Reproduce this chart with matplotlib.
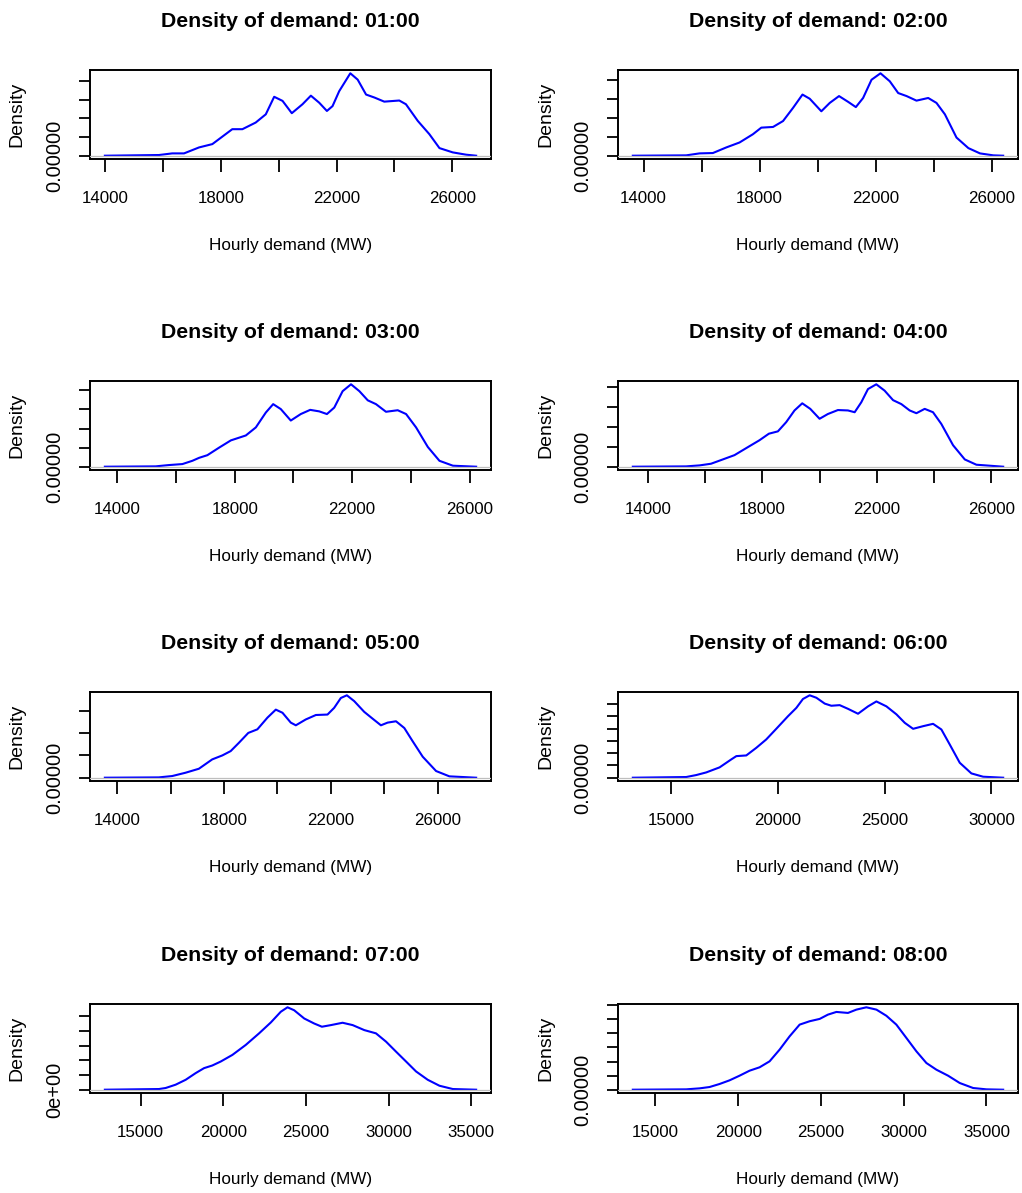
import numpy as np
import matplotlib
matplotlib.use("Agg")
import matplotlib.pyplot as plt
from matplotlib.ticker import MultipleLocator, FuncFormatter

plt.rcParams['font.family'] = ['Liberation Sans', 'DejaVu Sans']

hours = ["01:00", "02:00", "03:00", "04:00", "05:00", "06:00", "07:00", "08:00"]

# demand (MW) and density (x 1e-5)
mw_01 = [13980, 15850, 16310, 16720, 17240, 17700, 18390, 18740, 19200, 19550, 19840,
         20130, 20450, 20820, 21110, 21400, 21665, 21860, 22090, 22475, 22730, 23020,
         23310, 23650, 24170, 24400, 24810, 25210, 25560, 26020, 26485, 26830]
dens_01 = [0, 0.18, 0.62, 0.62, 2.22, 3.11, 7.11, 7.11, 8.89, 11.1, 15.8,
           14.7, 11.4, 13.8, 16.1, 14.2, 12.0, 13.3, 17.3, 22.1, 20.4, 16.4,
           15.6, 14.5, 14.8, 13.8, 9.33, 5.78, 2.04, 0.89, 0.27, 0]

mw_02 = [13630, 15470, 15930, 16390, 16850, 17310, 17770, 18060, 18465, 18810, 19155,
         19480, 19730, 20130, 20420, 20740, 21050, 21320, 21570, 21860, 22170, 22490,
         22780, 23070, 23410, 23815, 24100, 24390, 24790, 25200, 25600, 26060, 26400]
dens_02 = [0, 0.09, 0.61, 0.7, 2.17, 3.48, 5.65, 7.39, 7.57, 9.13, 12.6,
           16.1, 15.0, 11.7, 13.9, 15.7, 14.2, 12.8, 15.2, 20.0, 21.7, 19.6,
           16.5, 15.7, 14.5, 15.2, 13.9, 10.9, 4.78, 2.0, 0.61, 0.09, 0]

mw_03 = [13580, 15310, 15760, 16220, 16560, 16790, 17070, 17470, 17870, 18380, 18720,
         19060, 19310, 19570, 19910, 20250, 20570, 20880, 21140, 21390, 21675, 21960,
         22245, 22530, 22810, 23150, 23550, 23835, 24175, 24575, 24970, 25430, 26220]
dens_03 = [0, 0.09, 0.43, 0.69, 1.55, 2.33, 3.02, 5.0, 6.9, 8.19, 10.3,
           14.2, 16.4, 15.1, 12.1, 13.8, 14.9, 14.5, 13.8, 15.5, 19.8, 21.6,
           19.8, 17.4, 16.4, 14.4, 14.8, 13.8, 10.3, 5.17, 1.55, 0.26, 0]

mw_04 = [13480, 15340, 15810, 16210, 16620, 17030, 17550, 17900, 18230, 18545, 18835,
         19125, 19395, 19675, 20000, 20290, 20640, 20990, 21225, 21455, 21690, 21980,
         22270, 22565, 22855, 23145, 23380, 23670, 23960, 24250, 24660, 25070, 25475, 26410]
dens_04 = [0, 0.08, 0.33, 0.75, 1.83, 2.92, 5.17, 6.67, 8.33, 8.92, 11.25,
           14.2, 16.0, 14.6, 12.1, 13.3, 14.3, 14.2, 13.75, 16.25, 19.6, 20.8,
           19.2, 16.8, 15.8, 14.2, 13.5, 14.6, 13.75, 10.8, 5.42, 1.83, 0.5, 0]

mw_05 = [13540, 15560, 16060, 16560, 17060, 17560, 17940, 18250, 18560, 18910, 19250,
         19625, 19940, 20190, 20500, 20690, 21060, 21440, 21875, 22125, 22375, 22600,
         22875, 23250, 23560, 23875, 24125, 24440, 24750, 25060, 25440, 25940, 26440, 27440]
dens_05 = [0, 0.07, 0.37, 1.11, 2.0, 4.09, 4.98, 5.94, 7.8, 10.0, 10.8,
           13.4, 15.2, 14.5, 12.3, 11.7, 13.0, 14.0, 14.1, 15.6, 17.8, 18.4,
           17.1, 14.7, 13.2, 11.7, 12.3, 12.6, 11.1, 8.17, 4.68, 1.49, 0.3, 0]

mw_06 = [13200, 15700, 16170, 16640, 17265, 17810, 18050, 18515, 18985, 19450, 19920,
         20470, 20860, 21170, 21485, 21800, 22190, 22500, 22890, 23280, 23750, 24220,
         24610, 25080, 25550, 25940, 26330, 26800, 27265, 27655, 28045, 28515, 29060,
         29610, 30550]
dens_06 = [0, 0.11, 0.43, 0.86, 1.68, 2.97, 3.51, 3.62, 4.86, 6.22, 7.95,
           10.0, 11.35, 12.8, 13.4, 13.0, 12.05, 11.7, 11.8, 11.2, 10.4, 11.6,
           12.4, 11.6, 10.3, 8.92, 7.95, 8.38, 8.76, 7.84, 5.41, 2.43, 0.7,
           0.16, 0]

mw_07 = [12840, 16110, 16515, 17120, 17730, 18330, 18840, 19340, 19850, 20555, 21360,
         22170, 22880, 23485, 23890, 24290, 24900, 25500, 25970, 26515, 27220, 27830,
         28535, 29240, 29850, 30450, 31060, 31665, 32370, 33080, 33890, 35300]
dens_07 = [0, 0.09, 0.23, 0.68, 1.35, 2.25, 2.93, 3.29, 3.83, 4.73, 6.08,
           7.66, 9.14, 10.6, 11.2, 10.8, 9.68, 9.0, 8.56, 8.78, 9.1, 8.78,
           8.1, 7.66, 6.53, 5.18, 3.83, 2.48, 1.35, 0.54, 0.09, 0]

mw_08 = [13630, 16855, 17660, 18265, 18870, 19475, 20080, 20685, 21290, 21895, 22500,
         23105, 23710, 24315, 24920, 25420, 25930, 26630, 27140, 27740, 28350, 28950,
         29555, 30160, 30765, 31370, 31975, 32680, 33385, 34195, 35000, 36010]
dens_08 = [0, 0.05, 0.19, 0.38, 0.81, 1.33, 1.99, 2.7, 3.18, 4.03, 5.69,
           7.58, 9.24, 9.72, 10.05, 10.66, 11.04, 10.9, 11.37, 11.7, 11.37, 10.5,
           9.24, 7.35, 5.45, 3.79, 2.84, 1.99, 0.95, 0.24, 0.05, 0]

demand = [mw_01, mw_02, mw_03, mw_04, mw_05, mw_06, mw_07, mw_08]
density = [dens_01, dens_02, dens_03, dens_04, dens_05, dens_06, dens_07, dens_08]

# axis ticks as drawn on each panel
xtick_step = [2000, 2000, 2000, 2000, 2000, 5000, 5000, 5000]
xlabels_a = [14000, 18000, 22000, 26000]
xlabels_b = [15000, 20000, 25000, 30000, 35000]
xlabeled = [xlabels_a] * 5 + [xlabels_b] * 3
ytick_step = [5e-5, 5e-5, 5e-5, 5e-5, 5e-5, 2e-5, 2e-5, 2e-5]
zero_label = ["0.00000"] * 6 + ["0e+00", "0.00000"]

W, H = 1022, 1193
fig = plt.figure(figsize=(W / 100, H / 100), dpi=100)

col_left = [90, 618]
col_width = [401, 400]
row_top = [70, 381, 692, 1004]
box_h = 89

for i in range(8):
    r, c = divmod(i, 2)
    ax = fig.add_axes([col_left[c] / W, 1 - (row_top[r] + box_h) / H,
                       col_width[c] / W, box_h / H])
    x = np.array(demand[i])
    y = np.array(density[i]) * 1e-5

    ax.plot(x, y, color="blue", lw=1.5, solid_joinstyle="round")
    ax.axhline(0, color="#BEBEBE", lw=0.9, zorder=3)

    xr = x.max() - x.min()
    ax.set_xlim(x.min() - 0.04 * xr, x.max() + 0.04 * xr)
    ax.set_ylim(-0.04 * y.max(), 1.04 * y.max())

    ax.xaxis.set_major_locator(MultipleLocator(xtick_step[i]))
    labs = xlabeled[i]
    ax.xaxis.set_major_formatter(FuncFormatter(
        lambda v, p, labs=labs: f"{v:.0f}" if int(round(v)) in labs else ""))
    ax.yaxis.set_major_locator(MultipleLocator(ytick_step[i]))
    zl = zero_label[i]
    ax.yaxis.set_major_formatter(FuncFormatter(
        lambda v, p, zl=zl: zl if abs(v) < 1e-12 else ""))

    ax.tick_params(axis="both", direction="out", width=1.3, colors="black")
    ax.tick_params(axis="x", length=9.4, pad=13.5, labelsize=12.2)
    ax.tick_params(axis="y", length=7.7, pad=10.5, labelsize=14.4)
    for lab in ax.get_yticklabels():
        lab.set_rotation(90)
        lab.set_va("center")

    for s in ax.spines.values():
        s.set_linewidth(1.4)

    ax.set_title(f"Density of demand: {hours[i]}", fontsize=15.3,
                 fontweight="bold", pad=31)
    ax.set_xlabel("Hourly demand (MW)", fontsize=12.3)
    ax.xaxis.set_label_coords(0.5, -0.89)
    ax.xaxis.label.set_va("top")
    ax.set_ylabel("Density", fontsize=14)
    ax.yaxis.set_label_coords(-0.16, 0.5)

fig.savefig("out.png", dpi=100, facecolor="white")
